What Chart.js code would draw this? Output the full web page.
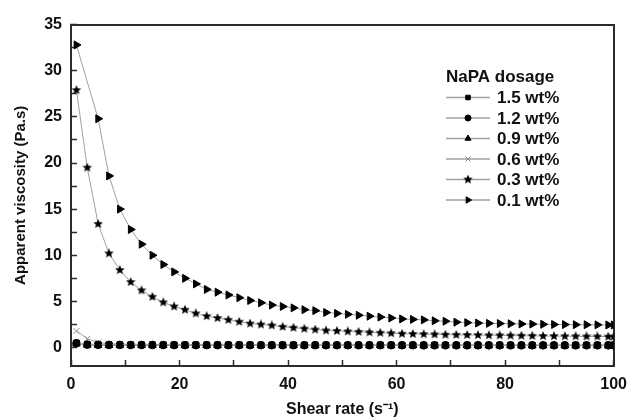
<!DOCTYPE html>
<html>
<head>
<meta charset="utf-8">
<script src="https://cdn.jsdelivr.net/npm/chart.js@4.4.1/dist/chart.umd.min.js"></script>
<style>
html, body { margin: 0; padding: 0; background: #fff; }
</style>
</head>
<body>
<canvas id="viscCanvas" width="642" height="420"></canvas>
<script>
// shear rate (s-1) at which each series was measured
var shearRate = [1, 3, 5, 7, 9, 11, 13, 15, 17, 19, 21, 23, 25, 27, 29, 31, 33, 35, 37, 39,
                 41, 43, 45, 47, 49, 51, 53, 55, 57, 59, 61, 63, 65, 67, 69, 71, 73, 75, 77, 79,
                 81, 83, 85, 87, 89, 91, 93, 95, 97, 99, 100];

var dosageLabels = ["1.5 wt%", "1.2 wt%", "0.9 wt%", "0.6 wt%", "0.3 wt%", "0.1 wt%"];

// apparent viscosity (Pa.s)
var visc15 = [0.50, 0.34, 0.32, 0.31, 0.30, 0.30, 0.30, 0.30, 0.29, 0.29, 0.29, 0.29, 0.29, 0.29, 0.28, 0.28, 0.28, 0.28, 0.28, 0.28,
              0.28, 0.28, 0.28, 0.28, 0.27, 0.27, 0.27, 0.27, 0.27, 0.27, 0.27, 0.27, 0.27, 0.27, 0.27, 0.27, 0.27, 0.27, 0.27, 0.27,
              0.26, 0.26, 0.26, 0.26, 0.26, 0.26, 0.26, 0.26, 0.26, 0.26, 0.26];
var visc12 = [0.46, 0.31, 0.29, 0.28, 0.28, 0.27, 0.27, 0.27, 0.27, 0.26, 0.26, 0.26, 0.26, 0.26, 0.26, 0.26, 0.26, 0.25, 0.25, 0.25,
              0.25, 0.25, 0.25, 0.25, 0.25, 0.25, 0.25, 0.25, 0.25, 0.25, 0.25, 0.25, 0.24, 0.24, 0.24, 0.24, 0.24, 0.24, 0.24, 0.24,
              0.24, 0.24, 0.24, 0.24, 0.24, 0.24, 0.24, 0.24, 0.24, 0.24, 0.24];
var visc09 = [0.42, 0.28, 0.26, 0.25, 0.25, 0.24, 0.24, 0.24, 0.24, 0.24, 0.23, 0.23, 0.23, 0.23, 0.23, 0.23, 0.23, 0.23, 0.23, 0.23,
              0.22, 0.22, 0.22, 0.22, 0.22, 0.22, 0.22, 0.22, 0.22, 0.22, 0.22, 0.22, 0.22, 0.22, 0.22, 0.22, 0.22, 0.21, 0.21, 0.21,
              0.21, 0.21, 0.21, 0.21, 0.21, 0.21, 0.21, 0.21, 0.21, 0.21, 0.21];
var visc06 = [1.80, 0.95, 0.55, 0.42, 0.37, 0.35, 0.34, 0.33, 0.32, 0.32, 0.31, 0.31, 0.30, 0.30, 0.30, 0.30, 0.29, 0.29, 0.29, 0.29,
              0.29, 0.29, 0.28, 0.28, 0.28, 0.28, 0.28, 0.28, 0.28, 0.28, 0.27, 0.27, 0.27, 0.27, 0.27, 0.27, 0.27, 0.27, 0.27, 0.27,
              0.27, 0.26, 0.26, 0.26, 0.26, 0.26, 0.26, 0.26, 0.26, 0.26, 0.26];
var visc03 = [27.9, 19.5, 13.4, 10.2, 8.4, 7.1, 6.2, 5.5, 4.9, 4.45, 4.1, 3.7, 3.4, 3.2, 3.0, 2.8, 2.6, 2.5, 2.4, 2.25,
              2.15, 2.05, 1.95, 1.85, 1.8, 1.75, 1.7, 1.65, 1.6, 1.55, 1.5, 1.48, 1.45, 1.43, 1.4, 1.38, 1.36, 1.35, 1.33, 1.32,
              1.3, 1.28, 1.27, 1.25, 1.24, 1.23, 1.22, 1.21, 1.2, 1.19, 1.18];
var visc01 = [32.8, null, 24.8, 18.6, 15.0, 12.8, 11.2, 10.0, 9.0, 8.2, 7.5, 6.9, 6.3, 6.0, 5.7, 5.4, 5.1, 4.85, 4.6, 4.45,
              4.3, 4.1, 4.0, 3.8, 3.7, 3.6, 3.5, 3.4, 3.3, 3.2, 3.1, 3.05, 3.0, 2.9, 2.85, 2.75, 2.7, 2.65, 2.62, 2.6,
              2.58, 2.56, 2.54, 2.52, 2.5, 2.49, 2.48, 2.47, 2.46, 2.45, 2.45];

// labelled ticks, and the unlabelled minor ticks in between
var xTicks = [0, 20, 40, 60, 80, 100];
var xMinor = [10, 30, 50, 70, 90];
var yTicks = [0, 5, 10, 15, 20, 25, 30, 35];
var yMinor = [2.5, 7.5, 12.5, 17.5, 22.5, 27.5, 32.5];

// filled five point star used as marker for 0.3 wt%
function starMarker(size) {
    var c = document.createElement('canvas');
    c.width = size; c.height = size;
    var g = c.getContext('2d');
    var cx = size / 2, cy = size / 2, ro = size / 2, ri = ro * 0.45;
    g.beginPath();
    for (var i = 0; i < 10; i++) {
        var r = (i % 2 === 0) ? ro : ri;
        var ang = -Math.PI / 2 + i * Math.PI / 5;
        var px = cx + r * Math.cos(ang), py = cy + r * Math.sin(ang);
        if (i === 0) g.moveTo(px, py); else g.lineTo(px, py);
    }
    g.closePath();
    g.fillStyle = '#000';
    g.fill();
    return c;
}

function toPoints(vals) {
    return shearRate.map(function(x, i) { return { x: x, y: vals[i] }; });
}

function tickList(major, minor) {
    return major.concat(minor).sort(function(a, b) { return a - b; }).map(function(v) { return { value: v }; });
}

var lineGrey = '#a0a0a0';
var axisColor = '#2b2b2b';
var fontFamily = "'Liberation Sans', Arial, sans-serif";

var markers = [
    { style: 'rect', radius: 4, rot: 0, color: '#000' },
    { style: 'circle', radius: 3.8, rot: 0, color: '#000' },
    { style: 'triangle', radius: 4.4, rot: 0, color: '#000' },
    { style: 'crossRot', radius: 4.2, rot: 0, color: '#8a8a8a' },
    { style: starMarker(10), radius: 4, rot: 0, color: '#000' },
    { style: 'triangle', radius: 4.6, rot: 90, color: '#000' }
];
var seriesValues = [visc15, visc12, visc09, visc06, visc03, visc01];

var datasets = seriesValues.map(function(vals, i) {
    var m = markers[i];
    return {
        label: dosageLabels[i],
        data: toPoints(vals),
        borderColor: lineGrey,
        borderWidth: 1,
        backgroundColor: m.color,
        pointBackgroundColor: m.color,
        pointBorderColor: m.color,
        pointBorderWidth: 1,
        pointStyle: m.style,
        pointRadius: m.radius,
        pointRotation: m.rot,
        spanGaps: true,
        tension: 0
    };
});

// legend sits inside the plot, line-marker-line like the original
var legendPlugin = {
    id: 'insideLegend',
    afterDraw: function(chart) {
        var ctx = chart.ctx;
        var x0 = 446, y0 = 77, step = 20.5;
        ctx.save();
        ctx.fillStyle = '#111';
        ctx.textBaseline = 'middle';
        ctx.textAlign = 'left';
        ctx.font = 'bold 17px ' + fontFamily;
        ctx.fillText('NaPA dosage', x0, y0);
        for (var i = 0; i < dosageLabels.length; i++) {
            var y = y0 + (i + 1) * step;
            ctx.strokeStyle = lineGrey;
            ctx.lineWidth = 1.5;
            ctx.beginPath(); ctx.moveTo(x0, y); ctx.lineTo(x0 + 44, y); ctx.stroke();
            var m = markers[i];
            ctx.fillStyle = m.color;
            ctx.strokeStyle = m.color;
            ctx.lineWidth = 1;
            Chart.helpers.drawPoint(ctx, { pointStyle: m.style, radius: m.radius * 0.8, rotation: m.rot, borderWidth: 1 }, x0 + 22, y);
            ctx.fillStyle = '#111';
            ctx.font = 'bold 17px ' + fontFamily;
            ctx.fillText(dosageLabels[i], x0 + 51, y + 1);
        }
        ctx.restore();
    }
};

var tickFont = { family: fontFamily, size: 16, weight: 'bold' };
var inwardGrid = {
    display: true,
    drawOnChartArea: false,
    drawTicks: true,
    tickLength: -6,
    tickColor: axisColor,
    tickWidth: 1.5
};
var frameBorder = { display: true, color: axisColor, width: 2 };

new Chart(document.getElementById('viscCanvas').getContext('2d'), {
    type: 'line',
    data: { datasets: datasets },
    options: {
        responsive: false,
        animation: false,
        layout: { padding: { top: 16, right: 13, left: 0, bottom: 0 } },
        plugins: { legend: { display: false }, tooltip: { enabled: false } },
        scales: {
            x: {
                type: 'linear',
                position: 'bottom',
                min: 0,
                max: 100,
                grid: inwardGrid,
                border: frameBorder,
                afterBuildTicks: function(s) { s.ticks = tickList(xTicks, xMinor); },
                afterFit: function(s) { s.height = 54; },
                ticks: {
                    color: '#111', padding: 15, maxRotation: 0, autoSkip: false, font: tickFont,
                    callback: function(v) { return xTicks.indexOf(v) >= 0 ? v : ''; }
                },
                title: {
                    display: true,
                    text: 'Shear rate (s\u207B\u00B9)',
                    color: '#111',
                    padding: { top: 0, bottom: 1 },
                    font: { family: fontFamily, size: 16, weight: 'bold' }
                }
            },
            y: {
                position: 'left',
                min: -2,
                max: 35,
                grid: inwardGrid,
                border: frameBorder,
                afterBuildTicks: function(s) { s.ticks = tickList(yTicks, yMinor); },
                afterFit: function(s) { s.width = 71; },
                ticks: {
                    color: '#111', padding: 15, autoSkip: false, font: tickFont,
                    callback: function(v) { return yTicks.indexOf(v) >= 0 ? v : ''; }
                },
                title: {
                    display: true,
                    text: 'Apparent viscosity (Pa.s)',
                    color: '#111',
                    padding: { top: 12, bottom: 0 },
                    font: { family: fontFamily, size: 15, weight: 'bold' }
                }
            },
            xTop: {
                type: 'linear',
                position: 'top',
                min: 0,
                max: 100,
                grid: { display: false },
                border: frameBorder,
                ticks: { display: false },
                afterFit: function(s) { s.height = 0; }
            },
            yRight: {
                type: 'linear',
                position: 'right',
                min: -2,
                max: 35,
                grid: { display: false },
                border: frameBorder,
                ticks: { display: false },
                afterFit: function(s) { s.width = 0; }
            }
        }
    },
    plugins: [legendPlugin]
});
</script>
</body>
</html>
